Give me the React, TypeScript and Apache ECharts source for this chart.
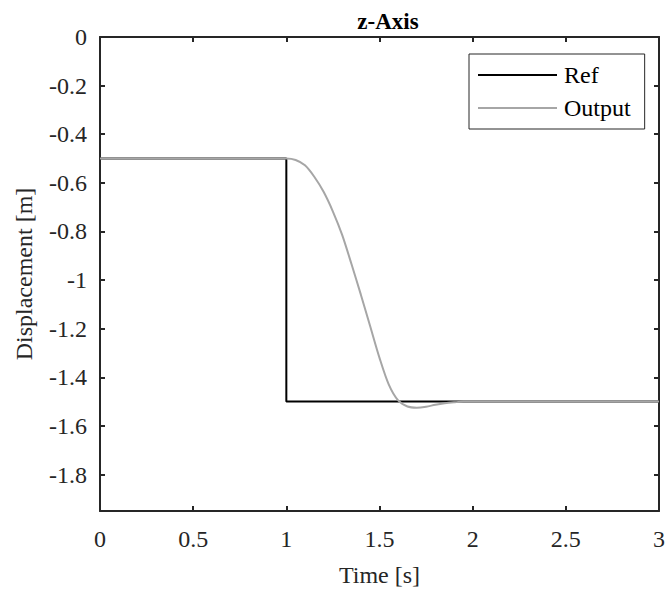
import React, { useEffect, useRef } from "react";
import * as echarts from "echarts";

const refTime = [0, 1, 1, 3];
const refValue = [-0.5, -0.5, -1.5, -1.5];

const outTime = [0, 1, 1.05, 1.1, 1.15, 1.2, 1.25, 1.3, 1.35, 1.4, 1.45, 1.5, 1.55, 1.6, 1.65, 1.7, 1.75, 1.8, 1.85, 1.9, 1.95, 2.0, 3.0];
const outValue = [-0.5, -0.5, -0.506, -0.528, -0.575, -0.637, -0.718, -0.815, -0.935, -1.06, -1.19, -1.32, -1.43, -1.495, -1.52, -1.525, -1.521, -1.513, -1.507, -1.503, -1.5, -1.5, -1.5];

const yTicks = [0, -0.2, -0.4, -0.6, -0.8, -1, -1.2, -1.4, -1.6, -1.8];

const titleText = "z-Axis";
const xName = "Time [s]";
const yName = "Displacement [m]";
const seriesNames = ["Ref", "Output"];

export default function App() {
  const ref = useRef<HTMLDivElement>(null);
  useEffect(() => {
    if (!ref.current) return;
    const chart = echarts.init(ref.current, undefined, { renderer: "svg" });
    const font = "Liberation Serif";
    const ink = "#262626";
    const axisLine = { show: true, onZero: false, lineStyle: { color: ink, width: 2 } };
    const tick = { show: true, inside: true, length: 5, lineStyle: { color: ink, width: 2 } };
    chart.setOption({
      animation: false,
      backgroundColor: "#ffffff",
      textStyle: { fontFamily: font },
      title: {
        text: titleText,
        left: 383,
        textAlign: "center",
        top: 5,
        textStyle: { fontFamily: font, fontWeight: "bold", fontSize: 23, color: "#000" },
      },
      grid: { left: 100, top: 37, right: 1, bottom: 76, containLabel: false },
      legend: {
        orient: "vertical",
        left: 469,
        top: 54,
        padding: [9, 14, 9, 9],
        itemWidth: 79,
        itemHeight: 2,
        itemGap: 9,
        icon: "rect",
        backgroundColor: "#fff",
        borderColor: ink,
        borderWidth: 1,
        borderRadius: 0,
        textStyle: { fontFamily: font, fontSize: 24, color: "#000", padding: [0, 0, 0, 2] },
        data: seriesNames,
      },
      xAxis: [
        {
          type: "value",
          min: 0,
          max: 3,
          interval: 0.5,
          position: "bottom",
          axisLine,
          axisTick: tick,
          splitLine: { show: false },
          axisLabel: { show: true, margin: 16, fontFamily: font, fontSize: 24, color: ink, showMinLabel: true, showMaxLabel: true },
          name: xName,
          nameLocation: "middle",
          nameGap: 52,
          nameTextStyle: { fontFamily: font, fontSize: 24, color: ink },
        },
        {
          type: "value",
          min: 0,
          max: 3,
          interval: 0.5,
          position: "top",
          axisLine,
          axisTick: tick,
          splitLine: { show: false },
          axisLabel: { show: false },
        },
      ],
      yAxis: [
        {
          type: "value",
          min: -1.95,
          max: 0,
          position: "left",
          axisLine,
          axisTick: { ...tick, customValues: yTicks },
          splitLine: { show: false },
          axisLabel: { show: true, margin: 13, fontFamily: font, fontSize: 24, color: ink, customValues: yTicks },
          name: yName,
          nameLocation: "middle",
          nameGap: 64,
          nameRotate: 90,
          nameTextStyle: { fontFamily: font, fontSize: 24, color: ink },
        },
        {
          type: "value",
          min: -1.95,
          max: 0,
          position: "right",
          axisLine,
          axisTick: { ...tick, customValues: yTicks },
          splitLine: { show: false },
          axisLabel: { show: false },
        },
      ],
      series: [
        {
          name: seriesNames[0],
          type: "line",
          xAxisIndex: 0,
          yAxisIndex: 0,
          showSymbol: false,
          symbol: "none",
          lineStyle: { color: "#000000", width: 2 },
          itemStyle: { color: "#000000" },
          data: refTime.map((t, i) => [t, refValue[i]]),
        },
        {
          name: seriesNames[1],
          type: "line",
          xAxisIndex: 0,
          yAxisIndex: 0,
          showSymbol: false,
          symbol: "none",
          smooth: 0.3,
          lineStyle: { color: "#a6a6a6", width: 2 },
          itemStyle: { color: "#a6a6a6" },
          data: outTime.map((t, i) => [t, outValue[i]]),
        },
      ],
    });
    return () => chart.dispose();
  }, []);
  return (
    <div
      ref={ref}
      style={{ position: "absolute", left: 0, top: 0, width: 668, height: 592, background: "#fff" }}
    />
  );
}
